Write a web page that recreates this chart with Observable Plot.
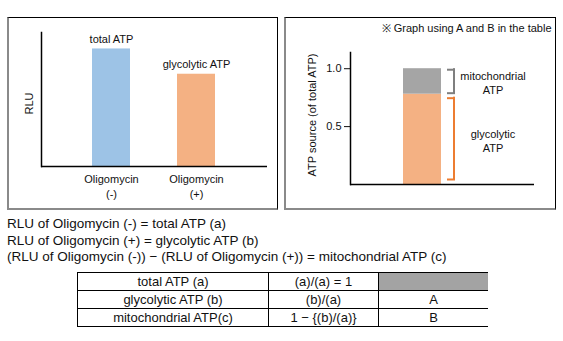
<!DOCTYPE html>
<html>
<head>
<meta charset="utf-8">
<script src="https://cdn.jsdelivr.net/npm/d3@7"></script>
<script src="https://cdn.jsdelivr.net/npm/@observablehq/plot@0.6"></script>
<style>
  html, body { margin: 0; padding: 0; background: #fff; }
  #page { position: relative; width: 563px; height: 341px; overflow: hidden; font-family: "Liberation Sans", Arial, sans-serif; color: #111; }
  .box { position: absolute; box-sizing: border-box; border-top: 1.5px solid #000; border-right: 1.5px solid #000; border-left: 2px solid #8a8a8a; border-bottom: 2px solid #8a8a8a; }
  .chart { position: absolute; }
  #notes { position: absolute; left: 7px; top: 216px; font-size: 13.5px; line-height: 16.6px; white-space: nowrap; }
  #tbl { position: absolute; left: 77px; top: 272px; border-collapse: collapse; font-size: 13px; }
  #tbl td { border: 1px solid #000; text-align: center; padding: 0; line-height: 17px; height: 17px; }
  #tbl td.last { border-right: none; }
  #tbl td.gray { background: #a3a3a3; }
</style>
</head>
<body>
<div id="page">
  <div class="box" style="left:7px;top:17px;width:271px;height:193px;"></div>
  <div class="box" style="left:284px;top:17px;width:272px;height:193px;"></div>
  <div id="left" class="chart" style="left:7px;top:18px;"></div>
  <div id="right" class="chart" style="left:284px;top:18px;"></div>
  <div id="notes"></div>
  <table id="tbl"></table>
</div>
<script>
// ---- Left chart data ----
const conditions = ["Oligomycin (-)", "Oligomycin (+)"];
const conditionLabels = ["Oligomycin\n(-)", "Oligomycin\n(+)"];
const rluValues = [1.0, 0.785];
const barLabels = ["total ATP", "glycolytic ATP"];
const barColors = ["#9dc3e6", "#f4b183"];
const leftYLabel = "RLU";

// ---- Right chart data ----
const stackCategory = "ATP";
const sources = ["glycolytic ATP", "mitochondrial ATP"];
const sourceValues = [0.78, 0.22];
const sourceColors = ["#f4b183", "#a5a5a5"];
const bracketColors = ["#ed7d31", "#7f7f7f"];
const bracketLabels = ["glycolytic\nATP", "mitochondrial\nATP"];
const rightYTicks = [0.5, 1.0];
const rightYLabel = "ATP source (of total ATP)";
const rightNote = "※ Graph using A and B in the table";

// ---- Text and table ----
const notes = [
  "RLU of Oligomycin (-) = total ATP (a)",
  "RLU of Oligomycin (+) = glycolytic ATP (b)",
  "(RLU of Oligomycin (-)) − (RLU of Oligomycin (+)) = mitochondrial ATP (c)"
];
const tableCol1 = ["total ATP (a)", "glycolytic ATP (b)", "mitochondrial ATP(c)"];
const tableCol2 = ["(a)/(a) = 1", "(b)/(a)", "1 − {(b)/(a)}"];
const tableCol3 = [null, "A", "B"];

const font = {fontFamily: "'Liberation Sans', Arial, sans-serif", fontSize: "11px", background: "transparent", color: "#111", overflow: "visible"};

// ---- Left chart ----
const leftData = conditions.map((c, i) => ({cat: c, value: rluValues[i], label: barLabels[i], xlab: conditionLabels[i], color: barColors[i]}));
const left = Plot.plot({
  width: 270, height: 191,
  marginLeft: 34, marginRight: 10, marginTop: 14, marginBottom: 43,
  style: font,
  x: {domain: conditions, axis: null, paddingInner: 0.55, paddingOuter: 0.6},
  y: {domain: [0, 1.14], axis: null},
  marks: [
    Plot.barY(leftData, {x: "cat", y: "value", fill: "color"}),
    Plot.text(leftData, {x: "cat", y: "value", text: "label", dy: -9.5, lineAnchor: "middle", fill: "#111"}),
    Plot.text(leftData, {x: "cat", text: "xlab", frameAnchor: "bottom", dy: 19.5, lineAnchor: "middle", lineHeight: 1.36, fill: "#111"}),
    Plot.text([leftYLabel], {text: d => d, frameAnchor: "left", textAnchor: "middle", lineAnchor: "middle", rotate: -90, dx: -12, dy: 4, fill: "#111"}),
    Plot.ruleY([0], {stroke: "#000", strokeWidth: 1.5}),
    Plot.frame({anchor: "left", stroke: "#000", strokeWidth: 1.5})
  ]
});
document.getElementById("left").appendChild(left);

// ---- Right chart ----
let acc = 0;
const segs = sources.map((s, i) => {
  const y1 = acc; acc += sourceValues[i];
  return {cat: stackCategory, source: s, value: sourceValues[i], y1, y2: acc, mid: (y1 + acc) / 2,
          color: sourceColors[i], bracket: bracketColors[i], label: bracketLabels[i]};
});
const glyc = segs.filter(d => d.source === sources[0]);
const mito = segs.filter(d => d.source === sources[1]);
// bracket geometry (pixel insets from the plot frame's sides)
const bx = {capLeft: 97, capRight: 79, stemLeft: 103};
const bracket = (data, insTop, insBottom) => [
  Plot.rect(data, {y1: "y1", y2: "y2", fill: "bracket", insetLeft: bx.stemLeft, insetRight: bx.capRight, insetTop: insTop - 1, insetBottom: insBottom - 1}),
  Plot.ruleY(data, {y: "y2", stroke: "bracket", strokeWidth: 2, dy: insTop, insetLeft: bx.capLeft, insetRight: bx.capRight}),
  Plot.ruleY(data, {y: "y1", stroke: "bracket", strokeWidth: 2, dy: -insBottom, insetLeft: bx.capLeft, insetRight: bx.capRight})
];
const right = Plot.plot({
  width: 271, height: 191,
  marginLeft: 66, marginRight: 21, marginTop: 34, marginBottom: 25,
  style: font,
  x: {domain: [stackCategory], axis: null, paddingInner: 0, paddingOuter: 1.86, align: 0.366},
  y: {domain: [0, 1.14], ticks: rightYTicks, tickFormat: d3.format(".1f"), tickSize: 6, tickPadding: 3, label: null},
  marks: [
    Plot.barY(segs, {x: "cat", y: "value", fill: "color"}),
    ...bracket(mito, 1, 1),
    ...bracket(glyc, 4, 5),
    Plot.text(segs, {x: "cat", y: "mid", text: "label", dx: 70.5, dy: 1.5, lineAnchor: "middle", lineHeight: 1.27, fill: "#111"}),
    Plot.text([rightYLabel], {text: d => d, frameAnchor: "left", textAnchor: "middle", lineAnchor: "middle", rotate: -90, dx: -38, dy: -3.5, fill: "#111"}),
    Plot.text([rightNote], {text: d => d, frameAnchor: "top-right", textAnchor: "end", dx: 17, dy: -24, lineAnchor: "middle", fill: "#111"}),
    Plot.ruleY([0], {stroke: "#000", strokeWidth: 1.5}),
    Plot.frame({anchor: "left", stroke: "#000", strokeWidth: 1.5})
  ]
});
document.getElementById("right").appendChild(right);

// ---- Notes ----
const notesEl = document.getElementById("notes");
notes.forEach(t => { const d = document.createElement("div"); d.textContent = t; notesEl.appendChild(d); });

// ---- Table ----
const colWidths = [190, 109, 109];
const tbl = document.getElementById("tbl");
tableCol1.forEach((_, i) => {
  const tr = document.createElement("tr");
  [tableCol1[i], tableCol2[i], tableCol3[i]].forEach((v, j) => {
    const td = document.createElement("td");
    td.style.width = colWidths[j] + "px";
    if (j === 2) td.className = "last" + (v == null ? " gray" : "");
    td.textContent = v == null ? "" : v;
    tr.appendChild(td);
  });
  tbl.appendChild(tr);
});
</script>
</body>
</html>
